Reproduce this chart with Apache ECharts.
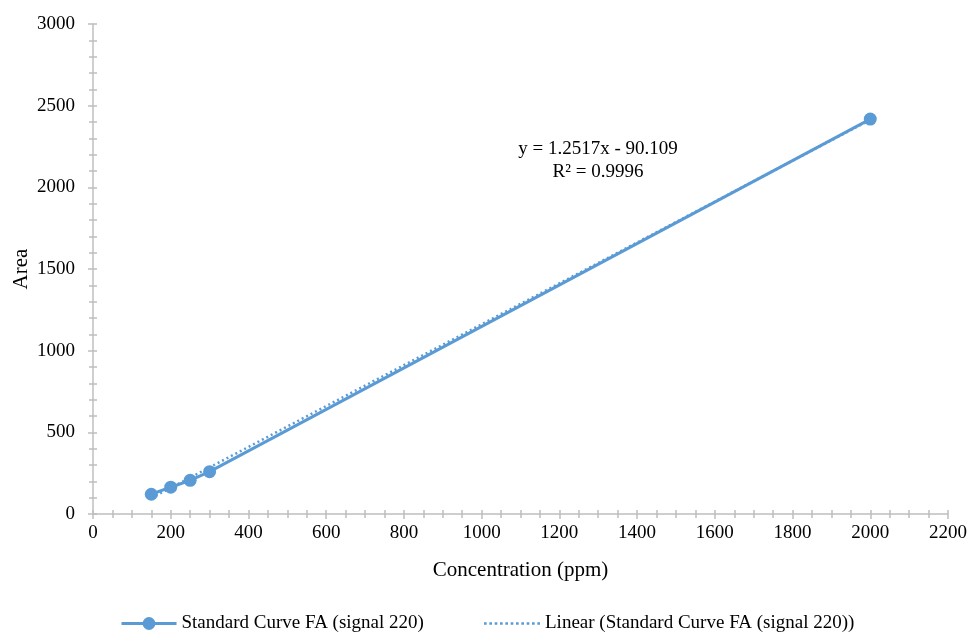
<!DOCTYPE html>
<html>
<head>
<meta charset="utf-8">
<script src="https://cdn.jsdelivr.net/npm/echarts@6/dist/echarts.min.js"></script>
<style>
  html, body { margin: 0; padding: 0; background: #fff; }
  #chart { width: 968px; height: 632px; }
</style>
</head>
<body>
<div id="chart"></div>
<script>
// Calibration points: concentration (ppm) vs. peak area
const concentration = [150, 200, 250, 300, 2000];
const area = [121, 164, 206, 259, 2418];

// Least-squares fit reported for the standard curve
const slope = 1.2517;
const intercept = -90.109;
const rSquared = 0.9996;

const seriesName = 'Standard Curve FA (signal 220)';
const trendName = 'Linear (Standard Curve FA (signal 220))';
const blue = '#5B9BD5';
const axisGray = '#BFBFBF';
const font = '"Liberation Serif", "Times New Roman", serif';

const points = concentration.map((c, i) => [c, area[i]]);
const xMin = Math.min(...concentration);
const xMax = Math.max(...concentration);
const trend = [xMin, xMax].map(x => [x, slope * x + intercept]);

const chart = echarts.init(document.getElementById('chart'), null, { renderer: 'canvas' });

const plain = v => String(v);

// Primary axes carry labels and outward ticks; twin axes add inward ticks
// so every tick crosses its axis line.
const xBase = { type: 'value', min: 0, max: 2200, interval: 200, splitLine: { show: false } };
const yBase = { type: 'value', min: 0, max: 3000, interval: 500, splitLine: { show: false } };

// Dotted legend swatch for the trendline
const dots = [];
for (let i = 0; i < 11; i++) dots.push('M' + (i * 2) + ',0h1v1h-1z');
const dottedIcon = 'path://' + dots.join(' ');

const legendText = { fontFamily: font, fontSize: 19, color: '#000' };

chart.setOption({
  animation: false,
  textStyle: { fontFamily: font },
  grid: { left: 93, right: 20, top: 24, bottom: 118, containLabel: false, outerBoundsMode: 'none' },
  legend: [
    {
      bottom: -1,
      left: 120,
      padding: 0,
      itemWidth: 55,
      itemHeight: 16,
      itemGap: 4,
      lineStyle: { width: 3 },
      textStyle: legendText,
      data: [seriesName]
    },
    {
      bottom: -1,
      left: 484,
      padding: 0,
      itemWidth: 56,
      itemHeight: 2.5,
      itemGap: 4,
      symbolKeepAspect: false,
      textStyle: legendText,
      data: [{ name: trendName, icon: dottedIcon, itemStyle: { color: blue } }]
    }
  ],
  xAxis: [
    Object.assign({}, xBase, {
      name: 'Concentration (ppm)',
      nameLocation: 'middle',
      nameGap: 46,
      nameTextStyle: { fontFamily: font, fontSize: 21, color: '#000' },
      axisLine: { show: true, onZero: false, lineStyle: { color: axisGray, width: 1.5 } },
      axisTick: { show: true, inside: false, length: 5, lineStyle: { color: axisGray, width: 1.5 } },
      minorTick: { show: true, splitNumber: 4, length: 4, lineStyle: { color: axisGray, width: 1.5 } },
      axisLabel: { fontFamily: font, fontSize: 19, color: '#000', margin: 10, formatter: plain }
    }),
    Object.assign({}, xBase, {
      position: 'bottom',
      axisLine: { show: false },
      axisTick: { show: true, inside: true, length: 4, lineStyle: { color: axisGray, width: 1.5 } },
      minorTick: { show: true, splitNumber: 4, length: 4, lineStyle: { color: axisGray, width: 1.5 } },
      axisLabel: { show: false }
    })
  ],
  yAxis: [
    Object.assign({}, yBase, {
      name: 'Area',
      nameLocation: 'middle',
      nameGap: 61,
      nameRotate: 90,
      nameMoveOverlap: false,
      nameTextStyle: { fontFamily: font, fontSize: 21, color: '#000' },
      axisLine: { show: true, onZero: false, lineStyle: { color: axisGray, width: 1.5 } },
      axisTick: { show: true, inside: false, length: 5, lineStyle: { color: axisGray, width: 1.5 } },
      minorTick: { show: true, splitNumber: 5, length: 4, lineStyle: { color: axisGray, width: 1.5 } },
      axisLabel: { fontFamily: font, fontSize: 19, color: '#000', margin: 18, formatter: plain }
    }),
    Object.assign({}, yBase, {
      position: 'left',
      axisLine: { show: false },
      axisTick: { show: true, inside: true, length: 4, lineStyle: { color: axisGray, width: 1.5 } },
      minorTick: { show: true, splitNumber: 5, length: 4, lineStyle: { color: axisGray, width: 1.5 } },
      axisLabel: { show: false }
    })
  ],
  series: [
    {
      name: seriesName,
      type: 'line',
      data: points,
      symbol: 'circle',
      symbolSize: 13,
      itemStyle: { color: blue },
      lineStyle: { color: blue, width: 3 },
      z: 3
    },
    {
      name: trendName,
      type: 'line',
      data: trend,
      symbol: 'none',
      itemStyle: { color: blue },
      lineStyle: { color: blue, width: 2.5, type: [2, 3] },
      z: 4
    }
  ],
  graphic: [
    {
      type: 'text',
      x: 598,
      y: 161,
      style: {
        text: 'y = ' + slope + 'x - ' + Math.abs(intercept) + '\nR² = ' + rSquared,
        fontFamily: font,
        fontSize: 19,
        lineHeight: 23,
        fill: '#000',
        align: 'center',
        verticalAlign: 'middle'
      }
    }
  ]
});
</script>
</body>
</html>
